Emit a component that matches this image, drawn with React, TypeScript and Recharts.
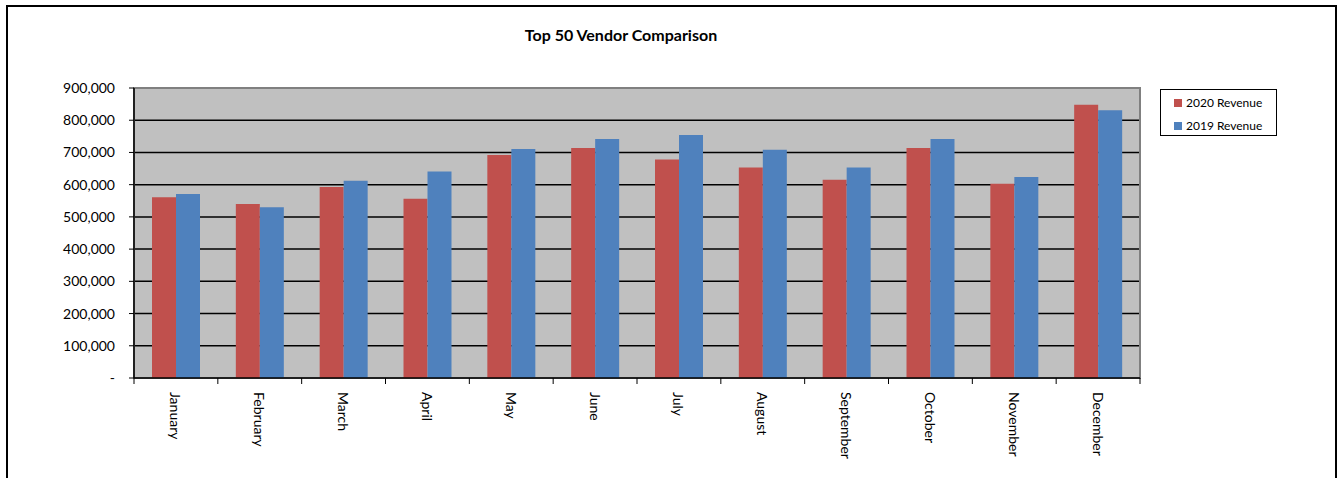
import { Bar, BarChart, CartesianGrid, ReferenceArea, XAxis, YAxis } from 'recharts';

const months = [
  'January', 'February', 'March', 'April', 'May', 'June',
  'July', 'August', 'September', 'October', 'November', 'December',
];
const revenue2020 = [561000, 540000, 593000, 556000, 692000, 714000, 678000, 653000, 615000, 714000, 603000, 848000];
const revenue2019 = [571000, 530000, 612000, 641000, 711000, 742000, 754000, 708000, 653000, 742000, 624000, 831000];
const yTicks = [0, 100000, 200000, 300000, 400000, 500000, 600000, 700000, 800000, 900000];

const series = [
  { key: 'r2020', label: '2020 Revenue', color: '#c0504d' },
  { key: 'r2019', label: '2019 Revenue', color: '#4f81bd' },
];

const data = months.map((month, i) => ({
  month,
  r2020: revenue2020[i],
  r2019: revenue2019[i],
}));

const FONT = 'Lato, "Open Sans", sans-serif';
const PLOT_W = 1006;
const band = PLOT_W / months.length;

const fmt = (v: number) => (v === 0 ? '-' : v.toLocaleString('en-US'));

const MonthTick = (props: any) => {
  const { x, y, payload, index } = props;
  const left = x - band / 2;
  return (
    <g>
      <line x1={left} y1={y - 8} x2={left} y2={y - 2} stroke="#000" />
      {index === months.length - 1 && (
        <line x1={x + band / 2} y1={y - 8} x2={x + band / 2} y2={y - 2} stroke="#000" />
      )}
      <text
        x={x}
        y={y + 6}
        transform={`rotate(90, ${x}, ${y + 6})`}
        textAnchor="start"
        dominantBaseline="central"
        fontSize={14}
        fontFamily={FONT}
        fill="#000"
      >
        {payload.value}
      </text>
    </g>
  );
};

const LegendBox = () => (
  <div
    style={{
      position: 'absolute',
      left: 1152,
      top: 82,
      border: '1px solid #000',
      width: 117,
      height: 47,
      boxSizing: 'border-box',
      fontFamily: FONT,
      fontSize: 12,
      color: '#000',
      padding: '4px 0 0 13px',
    }}
  >
    {series.map((item) => (
      <div key={item.key} style={{ display: 'flex', alignItems: 'center', height: 17, marginBottom: 6 }}>
        <span style={{ width: 8, height: 8, background: item.color, marginRight: 4 }} />
        <span>{item.label}</span>
      </div>
    ))}
  </div>
);

export default function App() {
  return (
    <div
      style={{
        position: 'absolute',
        left: 6,
        top: 5,
        width: 1327,
        height: 480,
        border: '2px solid #000',
        background: '#fff',
      }}
    >
      <div
        style={{
          position: 'absolute',
          left: 0,
          top: 18,
          width: 1226,
          textAlign: 'center',
          fontFamily: FONT,
          fontWeight: 700,
          fontSize: 16,
          color: '#000',
        }}
      >
        Top 50 Vendor Comparison
      </div>
      <LegendBox />
      <BarChart
        width={1327}
        height={472}
        data={data}
        margin={{ top: 81, right: 195, bottom: 0, left: 0 }}
        barCategoryGap={18}
        barGap={0}
      >
        <CartesianGrid vertical={false} fill="#c0c0c0" stroke="#000" strokeWidth={1.5} />
        <ReferenceArea y1={0} y2={900000} fill="none" stroke="#808080" strokeWidth={2} ifOverflow="visible" />
        <XAxis
          dataKey="month"
          height={101}
          interval={0}
          tickLine={false}
          axisLine={{ stroke: '#000', strokeWidth: 1.5 }}
          tick={<MonthTick />}
        />
        <YAxis
          width={126}
          domain={[0, 900000]}
          ticks={yTicks}
          tickFormatter={fmt}
          tickSize={5}
          tickMargin={14}
          axisLine={{ stroke: '#000', strokeWidth: 1.5 }}
          tickLine={{ stroke: '#000' }}
          tick={{ fontSize: 14, fontFamily: FONT, fill: '#000' }}
        />
        {series.map((s) => (
          <Bar key={s.key} dataKey={s.key} name={s.label} fill={s.color} isAnimationActive={false} />
        ))}
      </BarChart>
    </div>
  );
}
